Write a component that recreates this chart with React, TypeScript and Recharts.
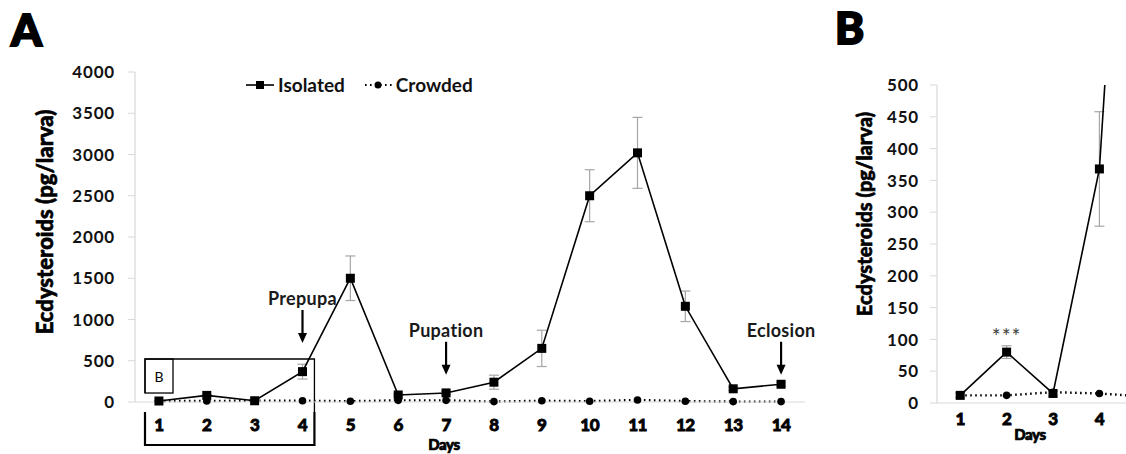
import React from 'react';
import {
  LineChart,
  Line,
  XAxis,
  YAxis,
  ErrorBar,
  Legend,
  ReferenceDot,
  ReferenceArea,
  LabelList,
} from 'recharts';

// ---------- data ----------
const days = [1, 2, 3, 4, 5, 6, 7, 8, 9, 10, 11, 12, 13, 14];
const isolated = [12, 80, 15, 368, 1500, 85, 110, 240, 650, 2500, 3020, 1160, 160, 215];
const isolatedErr = [4, 10, 4, 90, 270, 15, 20, 85, 220, 315, 430, 185, 20, 25];
const crowded = [12, 12, 17, 15, 10, 20, 20, 5, 15, 10, 25, 10, 5, 5];
const significance = ['', '***', '', '', '', '', '', '', '', '', '', '', '', ''];

const seriesOrder = ['isolated', 'crowded'];
const yTicksA = [0, 500, 1000, 1500, 2000, 2500, 3000, 3500, 4000];
const yTicksB = [0, 50, 100, 150, 200, 250, 300, 350, 400, 450, 500];
const xTicksB = [1, 2, 3, 4];
const zoomDays = 5; // panel B holds the first days (day 5 lies beyond the frame)

const stageDays = [4, 7, 14];
const stageLabels = ['Prepupa', 'Pupation', 'Eclosion'];
const stageArrowTips = [715, 330, 330];

const dataA = days.map((d, i) => ({
  day: d,
  isolated: isolated[i],
  isoErr: isolatedErr[i],
  crowded: crowded[i],
  sig: significance[i],
}));
const dataB = dataA.slice(0, zoomDays);

// ---------- style ----------
const FONT = "Lato, 'Open Sans', 'Liberation Sans', sans-serif";
const AXIS_GRAY = '#d9d9d9';

const SquareDot = (props: any) => {
  const { cx, cy } = props;
  if (cx == null || cy == null) return <g />;
  return <rect x={cx - 4.5} y={cy - 4.5} width={9} height={9} fill="#000" />;
};
const CircleDot = (props: any) => {
  const { cx, cy } = props;
  if (cx == null || cy == null) return <g />;
  return <circle cx={cx} cy={cy} r={3.8} fill="#000" />;
};

const XTick = (props: any) => {
  const { x, y, payload } = props;
  return (
    <text
      x={x}
      y={y}
      dy="0.71em"
      textAnchor="middle"
      fontFamily={FONT}
      fontWeight={900}
      fontSize={17}
      letterSpacing={-0.5}
      fill="#000"
      stroke="#000"
      strokeWidth={0.8}
    >
      {payload.value}
    </text>
  );
};

const YTick = (props: any) => {
  const { x, y, payload } = props;
  return (
    <text
      x={x}
      y={y}
      dy="0.36em"
      textAnchor="end"
      fontFamily={FONT}
      fontWeight={700}
      fontSize={17}
      letterSpacing={0.8}
      fill="#111"
    >
      {payload.value}
    </text>
  );
};

const makeYLabel = (dxFromLeft: number, dyFromMid: number, size: number) => (props: any) => {
  const vb = props.viewBox || {};
  const cx = (vb.x ?? 0) + dxFromLeft;
  const cy = (vb.y ?? 0) + (vb.height ?? 0) / 2 + dyFromMid;
  return (
    <text
      x={cx}
      y={cy}
      transform={`rotate(-90 ${cx} ${cy})`}
      textAnchor="middle"
      dominantBaseline="central"
      fontFamily={FONT}
      fontWeight={900}
      fontSize={size}
      fill="#000"
      stroke="#000"
      strokeWidth={0.6}
    >
      Ecdysteroids (pg/larva)
    </text>
  );
};

const makeDaysLabel = (dx: number, dy: number) => (props: any) => {
  const vb = props.viewBox || {};
  const cx = (vb.x ?? 0) + (vb.width ?? 0) / 2 + dx;
  const cy = (vb.y ?? 0) + dy;
  return (
    <text
      x={cx}
      y={cy}
      textAnchor="middle"
      dominantBaseline="central"
      fontFamily={FONT}
      fontWeight={900}
      fontSize={15}
      letterSpacing={-0.4}
      fill="#000"
      stroke="#000"
      strokeWidth={0.7}
    >
      Days
    </text>
  );
};

const StageMarker = (label: string) => (props: any) => {
  const { cx, cy } = props;
  if (cx == null || cy == null) return <g />;
  return (
    <g>
      <line x1={cx} x2={cx} y1={cy - 33} y2={cy - 8} stroke="#000" strokeWidth={2.2} />
      <polygon points={`${cx - 4.5},${cy - 10} ${cx + 4.5},${cy - 10} ${cx},${cy}`} fill="#000" />
      <text
        x={cx}
        y={cy - 45}
        textAnchor="middle"
        dominantBaseline="central"
        fontFamily={FONT}
        fontWeight={700}
        fontSize={18}
        letterSpacing={0.3}
        fill="#1a1a1a"
      >
        {label}
      </text>
    </g>
  );
};

const ZoomBox = (props: any) => {
  const { x, y, width, height } = props;
  if (x == null) return <g />;
  const left = x + 10;
  const right = x + width - 12;
  const top = y;
  const axisY = y + height;
  const lowTop = axisY + 10;
  const bottom = axisY + 43;
  return (
    <g fill="none" stroke="#000">
      <path d={`M${left},${axisY - 9} V${top} H${right} V${lowTop}`} strokeWidth={1.3} />
      <path d={`M${left},${lowTop} V${bottom} H${right} V${lowTop}`} strokeWidth={2.2} />
      <rect x={left} y={top} width={28} height={34} strokeWidth={1.3} />
      <text
        x={left + 14}
        y={top + 17}
        textAnchor="middle"
        dominantBaseline="central"
        fontFamily={FONT}
        fontWeight={400}
        fontSize={14}
        fill="#000"
        stroke="none"
      >
        B
      </text>
    </g>
  );
};

const LegendContent = (props: any) => {
  const payload = [...(props.payload || [])].sort(
    (a: any, b: any) => seriesOrder.indexOf(a.dataKey) - seriesOrder.indexOf(b.dataKey)
  );
  return (
    <div style={{ display: 'flex', alignItems: 'center', fontFamily: FONT, fontWeight: 700, fontSize: 19, color: '#111' }}>
      {payload.map((p: any) => {
        const isIso = p.dataKey === 'isolated';
        return (
          <div key={p.value} style={{ display: 'flex', alignItems: 'center', marginRight: 19 }}>
            <svg width={28} height={12} style={{ marginRight: 4 }}>
              {isIso ? (
                <>
                  <line x1={0} x2={28} y1={6} y2={6} stroke="#000" strokeWidth={1.6} />
                  <rect x={10} y={2} width={8} height={8} fill="#000" />
                </>
              ) : (
                <>
                  <line x1={1} x2={28} y1={6} y2={6} stroke="#000" strokeWidth={2.2} strokeDasharray="1.6 3.4" />
                  <circle cx={14} cy={6} r={3.5} fill="#000" />
                </>
              )}
            </svg>
            <span>{p.value}</span>
          </div>
        );
      })}
    </div>
  );
};

const SigLabel = (props: any) => {
  const { x, y, value } = props;
  if (!value) return <g />;
  return (
    <text
      x={x}
      y={y - 17}
      textAnchor="middle"
      dominantBaseline="central"
      fontFamily={FONT}
      fontSize={21}
      letterSpacing={1}
      fill="#404040"
    >
      {value}
    </text>
  );
};

const PanelLetter = ({ children, left, top }: any) => (
  <div
    style={{
      position: 'absolute',
      left,
      top,
      fontFamily: FONT,
      fontWeight: 900,
      fontSize: 44,
      lineHeight: '44px',
      color: '#000',
      WebkitTextStroke: '2px #000',
    }}
  >
    {children}
  </div>
);

export default function App() {
  return (
    <div
      style={{
        position: 'absolute',
        left: 0,
        top: 0,
        width: 1126,
        height: 454,
        overflow: 'hidden',
        background: '#fff',
      }}
    >
      <PanelLetter left={11} top={7}>A</PanelLetter>
      <PanelLetter left={835} top={5}>B</PanelLetter>

      {/* Panel A */}
      <div style={{ position: 'absolute', left: 0, top: 0 }}>
        <LineChart width={820} height={454} data={dataA} margin={{ top: 72, right: 15, bottom: 12, left: 0 }}>
          <XAxis
            dataKey="day"
            scale="band"
            height={40}
            interval={0}
            axisLine={{ stroke: AXIS_GRAY, strokeWidth: 1.2 }}
            tickLine={false}
            tickMargin={11}
            tick={<XTick />}
            label={makeDaysLabel(-26, 42)}
          />
          <YAxis
            width={135}
            domain={[0, 4000]}
            ticks={yTicksA}
            interval={0}
            axisLine={{ stroke: AXIS_GRAY, strokeWidth: 1.2 }}
            tickLine={{ stroke: AXIS_GRAY }}
            tickSize={7}
            tickMargin={13}
            tick={<YTick />}
            label={makeYLabel(44, -15, 22)}
          />
          <Legend
            layout="vertical"
            align="center"
            verticalAlign="middle"
            wrapperStyle={{ top: 73, left: 246, width: 300, height: 24 }}
            content={<LegendContent />}
          />
          <ReferenceArea x1={1} x2={4} y1={0} y2={521} ifOverflow="visible" shape={<ZoomBox />} />
          {stageDays.map((d, i) => (
            <ReferenceDot
              key={stageLabels[i]}
              x={d}
              y={stageArrowTips[i]}
              ifOverflow="visible"
              shape={StageMarker(stageLabels[i])}
            />
          ))}
          <Line
            dataKey="crowded"
            name="Crowded"
            stroke="#000"
            strokeWidth={2.4}
            strokeDasharray="1.6 3.4"
            dot={<CircleDot />}
            activeDot={false}
            isAnimationActive={false}
          />
          <Line
            dataKey="isolated"
            name="Isolated"
            stroke="#000"
            strokeWidth={1.6}
            dot={<SquareDot />}
            activeDot={false}
            isAnimationActive={false}
          >
            <ErrorBar dataKey="isoErr" stroke="#a6a6a6" strokeWidth={1.2} width={5} />
          </Line>
        </LineChart>
      </div>

      {/* Panel B */}
      <div style={{ position: 'absolute', left: 820, top: 0 }}>
        <LineChart width={349} height={454} data={dataB} margin={{ top: 85, right: 0, bottom: 11, left: 0 }}>
          <XAxis
            dataKey="day"
            scale="band"
            height={40}
            ticks={xTicksB}
            interval={0}
            axisLine={{ stroke: AXIS_GRAY, strokeWidth: 1.2 }}
            tickLine={false}
            tickMargin={4}
            tick={<XTick />}
            label={makeDaysLabel(-23, 31)}
          />
          <YAxis
            width={117}
            domain={[0, 500]}
            allowDataOverflow
            ticks={yTicksB}
            interval={0}
            axisLine={{ stroke: AXIS_GRAY, strokeWidth: 1.2 }}
            tickLine={{ stroke: AXIS_GRAY }}
            tickSize={7}
            tickMargin={11}
            tick={<YTick />}
            label={makeYLabel(44, -30, 20)}
          />
          <Line
            dataKey="crowded"
            name="Crowded"
            stroke="#000"
            strokeWidth={2.4}
            strokeDasharray="1.6 3.4"
            dot={<CircleDot />}
            activeDot={false}
            isAnimationActive={false}
          />
          <Line
            dataKey="isolated"
            name="Isolated"
            stroke="#000"
            strokeWidth={1.6}
            dot={<SquareDot />}
            activeDot={false}
            isAnimationActive={false}
          >
            <ErrorBar dataKey="isoErr" stroke="#a6a6a6" strokeWidth={1.2} width={5} />
            <LabelList dataKey="sig" content={<SigLabel />} />
          </Line>
        </LineChart>
      </div>
    </div>
  );
}
